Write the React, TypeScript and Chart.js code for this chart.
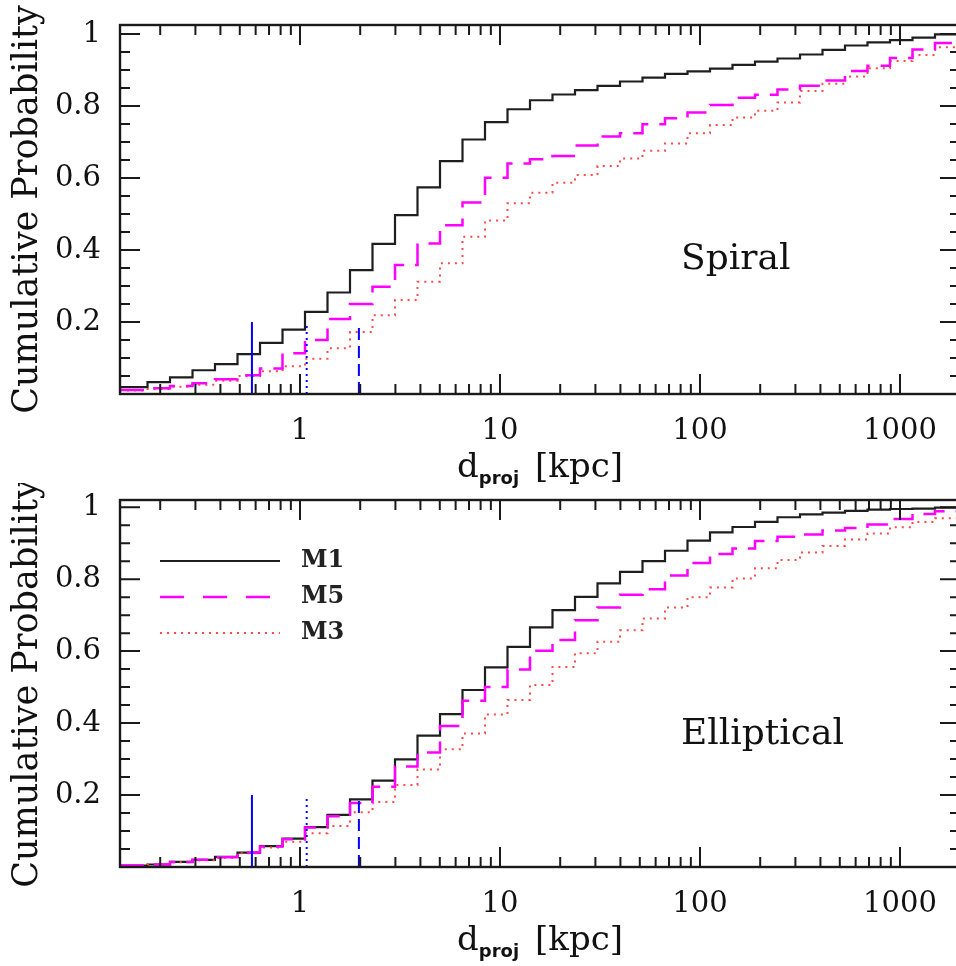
import React, { useEffect, useRef } from 'react';
import { Chart, registerables } from 'chart.js';

Chart.register(...registerables);

// Bin edges of the cumulative step curves (kpc)
const EDGES = [
  0.1334, 0.1728, 0.2239, 0.2901, 0.3758, 0.487, 0.631, 0.8176, 1.0593, 1.3725,
  1.7783, 2.3041, 2.9854, 3.8681, 5.0119, 6.4938, 8.414, 10.902, 14.125, 18.302,
  23.714, 30.726, 39.811, 51.582, 66.834, 86.596, 112.2, 145.38, 188.36, 244.06,
  316.23, 409.73, 530.88, 687.86, 891.25, 1154.8, 1496.2, 1938.6,
];

const SPIRAL_M1 = [
  0.019, 0.033, 0.046, 0.066, 0.083, 0.111, 0.142, 0.179, 0.228, 0.282,
  0.344, 0.417, 0.497, 0.574, 0.647, 0.707, 0.755, 0.791, 0.816, 0.832,
  0.844, 0.856, 0.868, 0.879, 0.889, 0.896, 0.904, 0.914, 0.923, 0.932,
  0.943, 0.956, 0.968, 0.977, 0.983, 0.99, 0.999,
];
const SPIRAL_M5 = [
  0.011, 0.016, 0.022, 0.03, 0.041, 0.052, 0.071, 0.113, 0.15, 0.208,
  0.25, 0.298, 0.358, 0.418, 0.469, 0.532, 0.601, 0.64, 0.652, 0.661,
  0.69, 0.715, 0.724, 0.749, 0.766, 0.782, 0.803, 0.823, 0.831, 0.846,
  0.856, 0.871, 0.897, 0.912, 0.933, 0.957, 0.975,
];
const SPIRAL_M3 = [
  0.01, 0.014, 0.02, 0.026, 0.037, 0.05, 0.063, 0.077, 0.098, 0.127,
  0.172, 0.219, 0.261, 0.312, 0.363, 0.437, 0.482, 0.53, 0.559, 0.587,
  0.608, 0.633, 0.654, 0.676, 0.696, 0.724, 0.747, 0.768, 0.787, 0.81,
  0.842, 0.862, 0.882, 0.905, 0.925, 0.942, 0.963,
];
const ELLIP_M1 = [
  0.004, 0.007, 0.014, 0.02, 0.028, 0.04, 0.058, 0.079, 0.111, 0.145,
  0.188, 0.24, 0.299, 0.365, 0.425, 0.492, 0.555, 0.612, 0.666, 0.714,
  0.751, 0.788, 0.82, 0.85, 0.879, 0.907, 0.93, 0.945, 0.959, 0.972,
  0.98, 0.985, 0.99, 0.993, 0.995, 0.996, 0.999,
];
const ELLIP_M5 = [
  0.004, 0.007, 0.014, 0.02, 0.027, 0.04, 0.057, 0.077, 0.11, 0.141,
  0.178, 0.223, 0.279, 0.318, 0.392, 0.462, 0.5, 0.549, 0.601, 0.631,
  0.686, 0.721, 0.757, 0.772, 0.81, 0.845, 0.87, 0.885, 0.906, 0.918,
  0.924, 0.935, 0.942, 0.952, 0.967, 0.981, 0.989,
];
const ELLIP_M3 = [
  0.004, 0.007, 0.013, 0.019, 0.026, 0.038, 0.054, 0.07, 0.094, 0.114,
  0.152, 0.181, 0.228, 0.271, 0.327, 0.371, 0.424, 0.464, 0.506, 0.556,
  0.594, 0.626, 0.658, 0.691, 0.721, 0.75, 0.777, 0.802, 0.83, 0.853,
  0.874, 0.892, 0.91, 0.927, 0.944, 0.959, 0.969,
];

// Blue vertical markers (kpc) and their height
const MARKER_X = [0.575, 1.08, 1.97];
const MARKER_TOP = 0.2;

const X_LABELS = [1, 10, 100, 1000];
const X_MINOR = [
  0.2, 0.3, 0.4, 0.5, 0.6, 0.7, 0.8, 0.9, 1, 2, 3, 4, 5, 6, 7, 8, 9, 10,
  20, 30, 40, 50, 60, 70, 80, 90, 100, 200, 300, 400, 500, 600, 700, 800, 900, 1000,
];
const Y_TICKS = [
  0, 0.05, 0.1, 0.15, 0.2, 0.25, 0.3, 0.35, 0.4, 0.45, 0.5,
  0.55, 0.6, 0.65, 0.7, 0.75, 0.8, 0.85, 0.9, 0.95, 1,
];
const Y_LABELS = [0.2, 0.4, 0.6, 0.8, 1];
const SERIES_NAMES = ['M1', 'M5', 'M3'];
const PANEL_NAMES = ['Spiral', 'Elliptical'];

const X_MIN = 0.12589;
const X_MAX = 1995.3;

const SERIF = '"DejaVu Serif", serif';

function stepPoints(vals: number[]) {
  const pts: { x: number; y: number }[] = [{ x: X_MIN, y: vals[0] }];
  vals.forEach((v, i) => pts.push({ x: EDGES[i], y: v }));
  pts.push({ x: EDGES[vals.length], y: vals[vals.length - 1] });
  return pts;
}

const near = (a: number, b: number) => Math.abs(a - b) < 1e-6 * Math.max(1, Math.abs(b));
const isDecade = (v: number) => X_LABELS.some((l) => near(v, l));

const decorPlugin = {
  id: 'decor',
  afterDatasetsDraw(chart: any, _args: any, opts: any) {
    const { ctx, chartArea: a, scales } = chart;
    const xs = scales.x;
    const ys = scales.y;
    ctx.save();
    ctx.strokeStyle = '#1a1a1a';
    ctx.lineWidth = 2;
    ctx.setLineDash([]);
    ctx.beginPath();
    X_MINOR.forEach((v) => {
      const px = xs.getPixelForValue(v);
      const len = isDecade(v) ? 20 : 10;
      ctx.moveTo(px, a.bottom);
      ctx.lineTo(px, a.bottom - len);
      ctx.moveTo(px, a.top);
      ctx.lineTo(px, a.top + len);
    });
    ys.ticks.forEach((t: any) => {
      const v = t.value;
      if (v <= 1e-9) return;
      const major = Y_LABELS.some((l) => near(v, l));
      const len = major ? 20 : 10;
      const py = ys.getPixelForValue(v);
      ctx.moveTo(a.left, py);
      ctx.lineTo(a.left + len, py);
      ctx.moveTo(a.right, py);
      ctx.lineTo(a.right - len, py);
    });
    ctx.stroke();
    ctx.lineWidth = 2.4;
    ctx.strokeRect(a.left, a.top, a.right - a.left, a.bottom - a.top);

    // x-axis title with subscript
    ctx.fillStyle = '#111';
    ctx.textBaseline = 'alphabetic';
    ctx.textAlign = 'left';
    const base = a.bottom + 83;
    ctx.font = '34px ' + SERIF;
    const wd = ctx.measureText('d').width;
    const wk = ctx.measureText('[kpc]').width;
    ctx.font = 'bold 18px "DejaVu Sans", sans-serif';
    const wp = ctx.measureText('proj').width;
    const gap = 16;
    let x0 = (a.left + a.right) / 2 - (wd + wp + gap + wk) / 2;
    ctx.font = '34px ' + SERIF;
    ctx.fillText('d', x0, base);
    x0 += wd;
    ctx.font = 'bold 18px "DejaVu Sans", sans-serif';
    ctx.fillText('proj', x0, base + 7);
    x0 += wp + gap;
    ctx.font = '34px ' + SERIF;
    ctx.fillText('[kpc]', x0, base);

    // panel name
    ctx.font = '36px ' + SERIF;
    ctx.fillText(opts.name, a.left + 561, a.top + 244);

    // legend
    if (opts.legend) {
      SERIES_NAMES.forEach((name, i) => {
        const ds = chart.data.datasets.find((d: any) => d.label === name);
        const y = a.top + 61 + i * 36;
        ctx.save();
        ctx.strokeStyle = ds.borderColor;
        ctx.lineWidth = ds.borderWidth;
        ctx.setLineDash(ds.legendDash || ds.borderDash || []);
        ctx.beginPath();
        ctx.moveTo(a.left + 40, y);
        ctx.lineTo(a.left + 160, y);
        ctx.stroke();
        ctx.restore();
        ctx.fillStyle = '#222';
        ctx.font = 'bold 24px ' + SERIF;
        ctx.textBaseline = 'middle';
        ctx.fillText(name, a.left + 181, y);
      });
    }
    ctx.restore();
  },
};

function makeConfig(name: string, m1: number[], m5: number[], m3: number[], yMax: number, padTop: number, axisH: number, legend: boolean): any {
  const markerStyles = [[], [2, 4], [12, 6]];
  const markers = MARKER_X.map((mx, i) => ({
    label: 'marker' + i,
    data: [
      { x: mx, y: 0 },
      { x: mx, y: MARKER_TOP },
    ],
    borderColor: '#0000ff',
    borderWidth: 2,
    borderDash: markerStyles[i],
    pointRadius: 0,
    fill: false,
  }));
  return {
    type: 'line',
    data: {
      datasets: [
        ...markers,
        {
          label: SERIES_NAMES[1],
          data: stepPoints(m5),
          borderColor: '#ff00ff',
          borderWidth: 2.5,
          borderDash: [24, 11],
          legendDash: [24, 19],
          stepped: 'before',
          pointRadius: 0,
          fill: false,
        },
        {
          label: SERIES_NAMES[2],
          data: stepPoints(m3),
          borderColor: '#ff4a4a',
          borderWidth: 2,
          borderDash: [2, 5],
          stepped: 'before',
          pointRadius: 0,
          fill: false,
        },
        {
          label: SERIES_NAMES[0],
          data: stepPoints(m1),
          borderColor: '#1e1e1e',
          borderWidth: 2.2,
          stepped: 'before',
          pointRadius: 0,
          fill: false,
        },
      ],
    },
    options: {
      animation: false,
      responsive: false,
      maintainAspectRatio: false,
      layout: { padding: { top: padTop, right: 6, left: 0, bottom: 0 } },
      plugins: {
        legend: { display: false },
        tooltip: { enabled: false },
        title: { display: false },
        decor: { name, legend },
      },
      scales: {
        x: {
          type: 'logarithmic',
          min: X_MIN,
          max: X_MAX,
          grid: { display: false, drawTicks: false },
          border: { display: false },
          ticks: {
            autoSkip: false,
            maxRotation: 0,
            minRotation: 0,
            padding: 20,
            color: '#111',
            font: { family: SERIF, size: 29 },
            callback: (v: number) => {
              const l = X_LABELS.find((x) => near(v, x));
              return l !== undefined ? String(l) : '';
            },
          },
          afterFit: (s: any) => {
            s.height = axisH;
            s.paddingLeft = 0;
            s.paddingRight = 0;
          },
        },
        y: {
          type: 'linear',
          min: 0,
          max: yMax,
          grid: { display: false, drawTicks: false },
          border: { display: false },
          afterBuildTicks: (s: any) => {
            s.ticks = Y_TICKS.map((v) => ({ value: v }));
          },
          ticks: {
            autoSkip: false,
            padding: 19,
            color: '#111',
            font: { family: SERIF, size: 29 },
            callback: (v: number) => {
              const l = Y_LABELS.find((y) => near(v, y));
              return l !== undefined ? (l === 1 ? '1' : l.toFixed(1)) : '';
            },
          },
          title: {
            display: true,
            text: 'Cumulative Probability',
            color: '#111',
            font: { family: SERIF, size: 35 },
            padding: { top: 7, bottom: 0 },
          },
          afterFit: (s: any) => {
            s.width = 120;
            s.paddingTop = 0;
            s.paddingBottom = 0;
          },
        },
      },
    },
    plugins: [decorPlugin],
  };
}

export default function App() {
  const topRef = useRef<HTMLCanvasElement>(null);
  const botRef = useRef<HTMLCanvasElement>(null);
  useEffect(() => {
    const c1 = new Chart(topRef.current as HTMLCanvasElement, makeConfig(PANEL_NAMES[0], SPIRAL_M1, SPIRAL_M5, SPIRAL_M3, 1.025, 25, 102, false));
    const c2 = new Chart(botRef.current as HTMLCanvasElement, makeConfig(PANEL_NAMES[1], ELLIP_M1, ELLIP_M5, ELLIP_M3, 1.02, 17, 99, true));
    return () => {
      c1.destroy();
      c2.destroy();
    };
  }, []);
  return (
    <div style={{ position: 'absolute', left: 0, top: 0, width: 956, height: 966, overflow: 'hidden', background: '#fff' }}>
      <canvas ref={topRef} width={966} height={496} style={{ position: 'absolute', left: 0, top: 0 }} />
      <canvas ref={botRef} width={966} height={483} style={{ position: 'absolute', left: 0, top: 483 }} />
    </div>
  );
}
